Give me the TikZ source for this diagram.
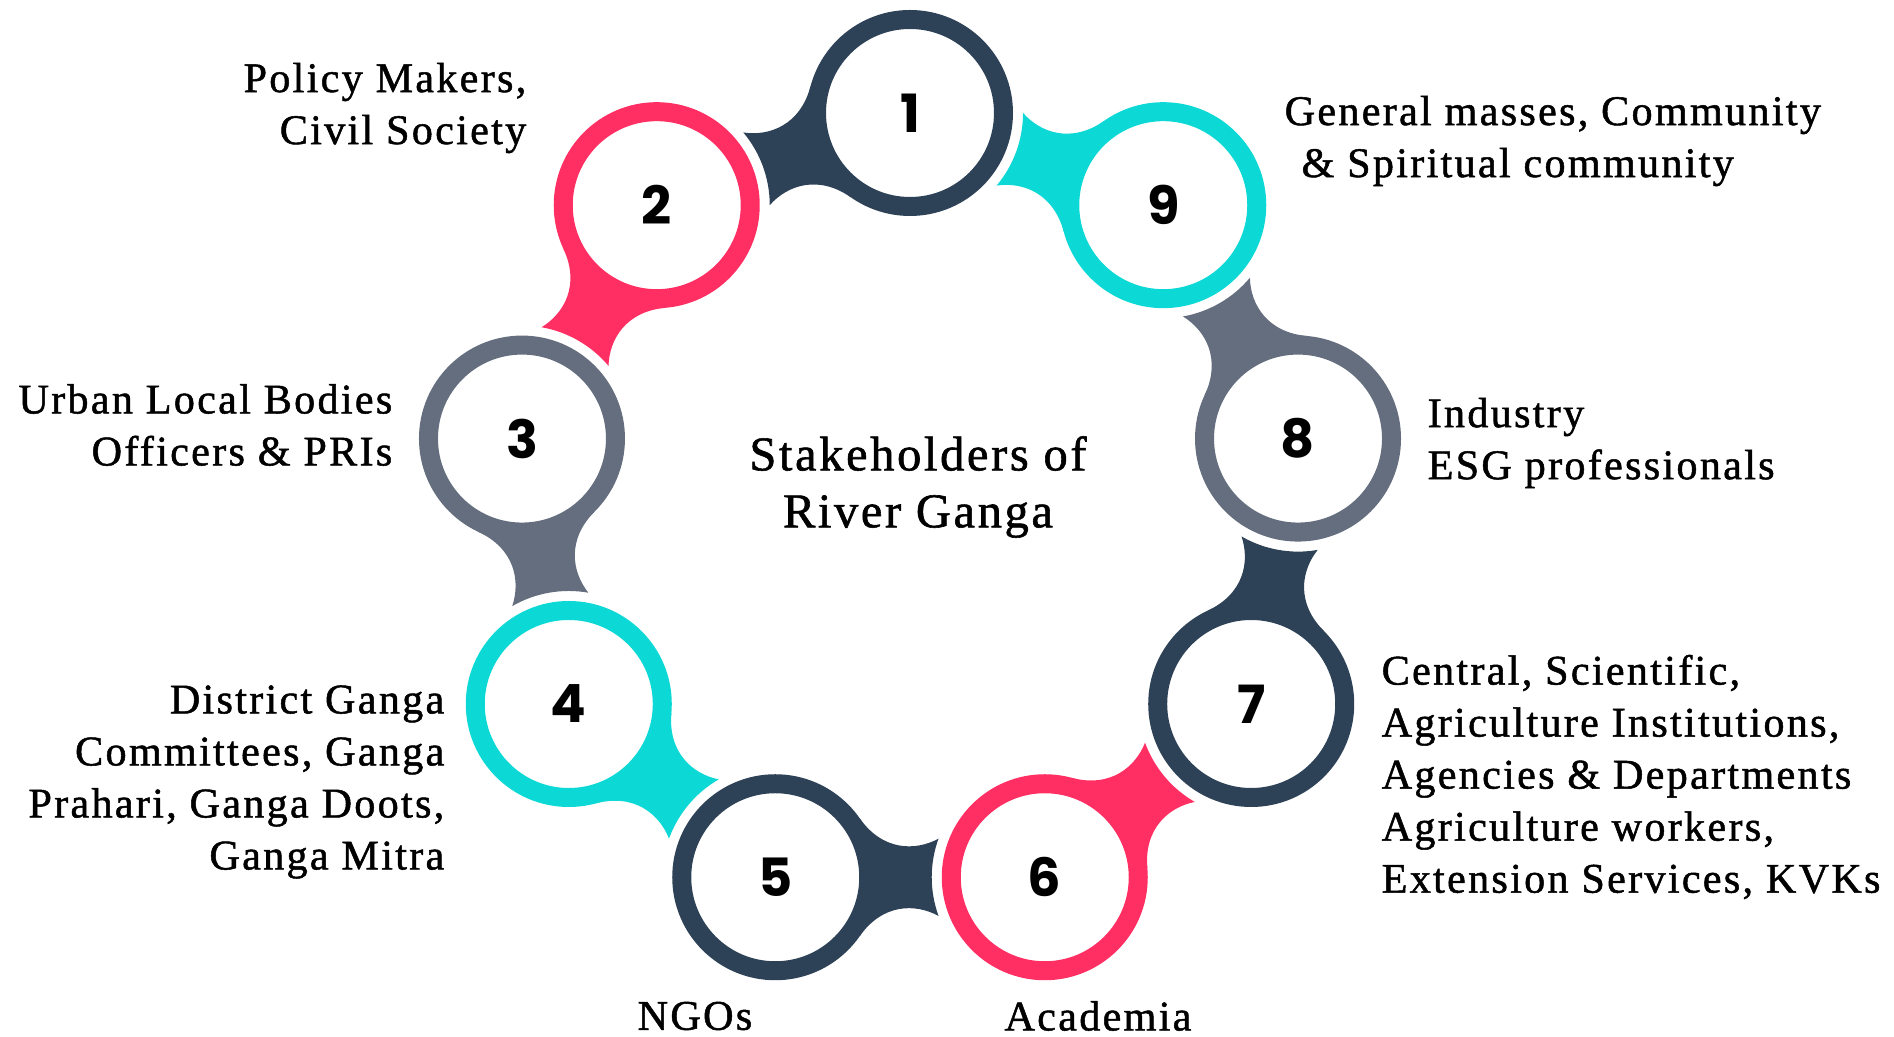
\documentclass[tikz,border=0pt]{standalone}
\usepackage{fontspec}
\setmainfont{Liberation Serif}[LetterSpace=5.4, FakeBold=1.2]
\newfontfamily\numfont{Poppins}
\usetikzlibrary{positioning}
\definecolor{navy}{HTML}{2E4257}
\definecolor{rose}{HTML}{FF2F64}
\definecolor{aqua}{HTML}{0CD8D5}
\definecolor{slate}{HTML}{646E7E}
\tikzset{
	ringnum/.style={font=\numfont\bfseries\fontsize{15}{15}\selectfont, inner sep=0pt},
	lbl/.style={font=\fontsize{12}{14.8}\selectfont, inner sep=0pt},
}
\begin{document}
\begin{tikzpicture}
	\useasboundingbox (-9.10,-5.30) rectangle (9.84,5.07);
	\foreach \i in {1,...,9}
		\path (50+40*\i:3.94) node[ringnum] (r\i) {\i};
	\foreach \i/\c in {1/navy,2/rose,3/slate,4/aqua,5/navy,6/rose,7/navy,8/slate,9/aqua}{
		\pgfmathsetmacro{\a}{160+40*\i}
		\fill[\c, shift={(r\i)}, rotate=\a] (35:1.03) .. controls (1.073,0.263) and (1.40,0.26) .. (1.633,0.386)
			arc[start angle=160, end angle=200, radius=1.13]
			.. controls (1.40,-0.26) and (1.073,-0.263) .. (-35:1.03) -- cycle;
		\draw[\c, line width=0.19cm] (r\i) circle (0.935);
	}
	\node[lbl, font=\fontsize{13.8}{16.2}\selectfont, align=center] (title) at (0.08,0.20) {Stakeholders of\\River Ganga};
	\node[lbl, align=right, anchor=east] (l2) at (-3.83,3.99) {Policy Makers,\\Civil Society};
	\node[lbl, align=left, anchor=west] (l9) at (3.74,3.66) {General masses, Community\\\hspace{0.4em}\& Spiritual community};
	\node[lbl, align=right, anchor=east] (l3) at (-5.17,0.82) {Urban Local Bodies\\Officers \& PRIs};
	\node[lbl, align=left, anchor=west] (l8) at (5.17,0.64) {Industry\\ESG professionals};
	\node[lbl, align=right, anchor=east] (l4) at (-4.65,-2.75) {District Ganga\\Committees, Ganga\\Prahari, Ganga Doots,\\Ganga Mitra};
	\node[lbl, align=left, anchor=west] (l7) at (4.71,-2.70) {Central, Scientific,\\Agriculture Institutions,\\Agencies \& Departments\\Agriculture workers,\\Extension Services, KVKs};
	\node[lbl] (l5) at (-2.15,-5.09) {NGOs};
	\node[lbl] (l6) at (1.88,-5.09) {Academia};
\end{tikzpicture}
\end{document}
